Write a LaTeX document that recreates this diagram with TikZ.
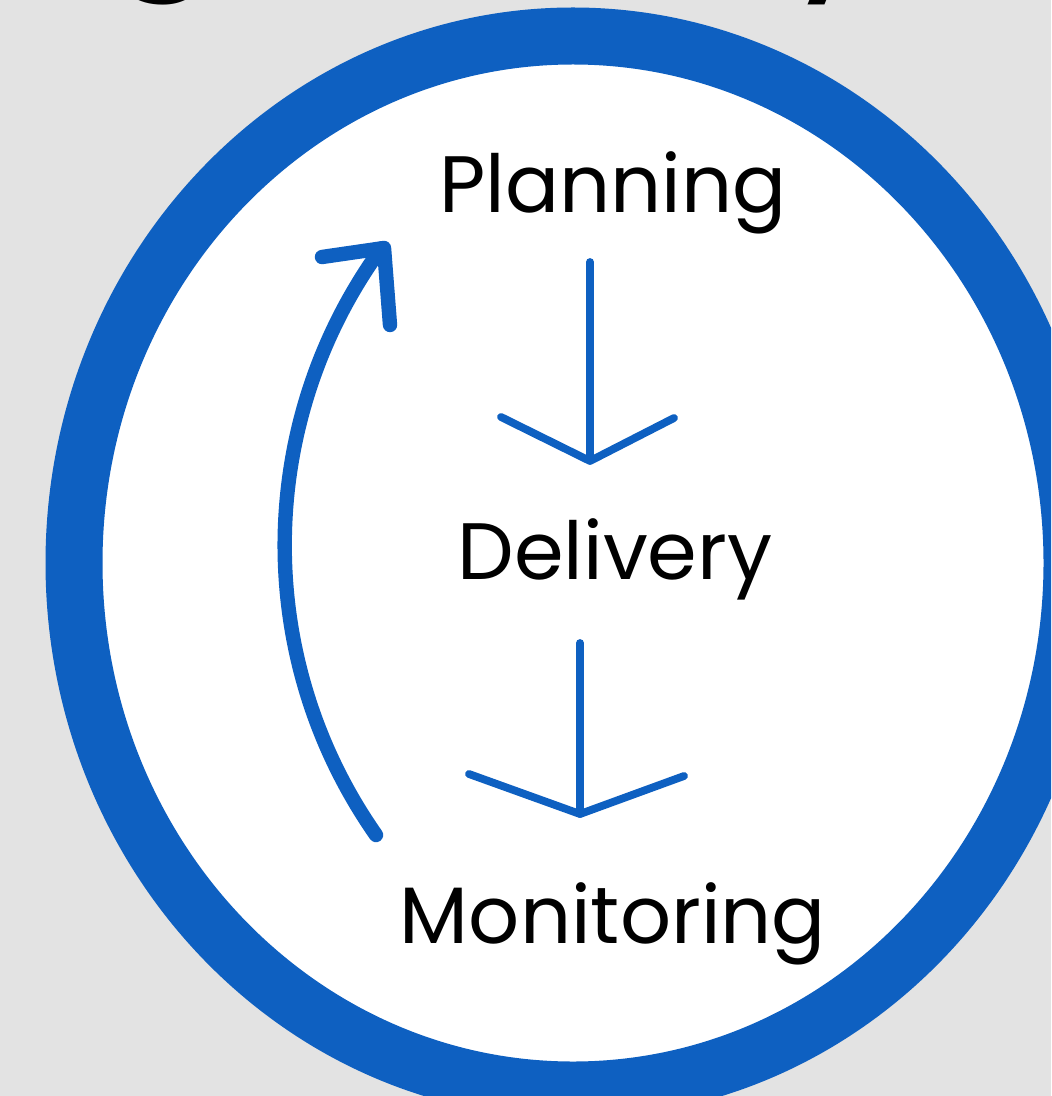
\documentclass[tikz,border=0pt]{standalone}
\usepackage{fontspec}
\setmainfont{Poppins}
\definecolor{ringblue}{RGB}{14,96,193}
\definecolor{backgrey}{RGB}{227,227,227}

\begin{document}
\begin{tikzpicture}[x=0.5pt, y=0.5pt,
    stage/.style={anchor=base, inner sep=0pt, font=\fontsize{40}{48}\selectfont},
    heading/.style={anchor=south, inner sep=0pt, font=\fontsize{90}{100}\selectfont},
    flow/.style={ringblue, line width=3.9pt, line cap=round, line join=round},
    loopback/.style={ringblue, line width=7.2pt, line cap=round, line join=round}]
  \useasboundingbox (0,0) rectangle (1051,-1096);
  \clip (0,0) rectangle (1051,-1096);
  \fill[backgrey] (0,0) rectangle (1051,-1096);

  % tails of the heading, cut off by the top edge
  \node[heading] (headg) at (163,-6) {g};
  \node[heading] (heady) at (836,-5) {y};

  % the cycle ring
  \draw[ringblue, fill=white, line width=28.5pt] (573,-563) ellipse [x radius=499, y radius=527];

  % stages
  \node[stage] (plan) at (613,-213) {Planning};
  \node[stage] (deliv) at (615,-579) {Delivery};
  \node[stage] (monit) at (613,-943) {Monitoring};

  % plan -> delivery
  \coordinate (p1) at (590,-262);
  \coordinate (p2) at (590,-461);
  \draw[flow] (p1) -- (p2);
  \draw[flow] (501,-417) -- (p2) -- (674,-418);

  % delivery -> monitoring
  \coordinate (d1) at (580,-643);
  \coordinate (d2) at (580,-814);
  \draw[flow] (d1) -- (d2);
  \draw[flow] (469,-774) -- (d2) -- (684,-776);

  % back round to planning
  \coordinate (m1) at (376,-835);
  \draw[loopback] (m1) arc[start angle=215, end angle=144, radius=505] coordinate (m2);
  \draw[loopback] (322,-257) -- (384,-248) -- (390,-325);
\end{tikzpicture}
\end{document}
